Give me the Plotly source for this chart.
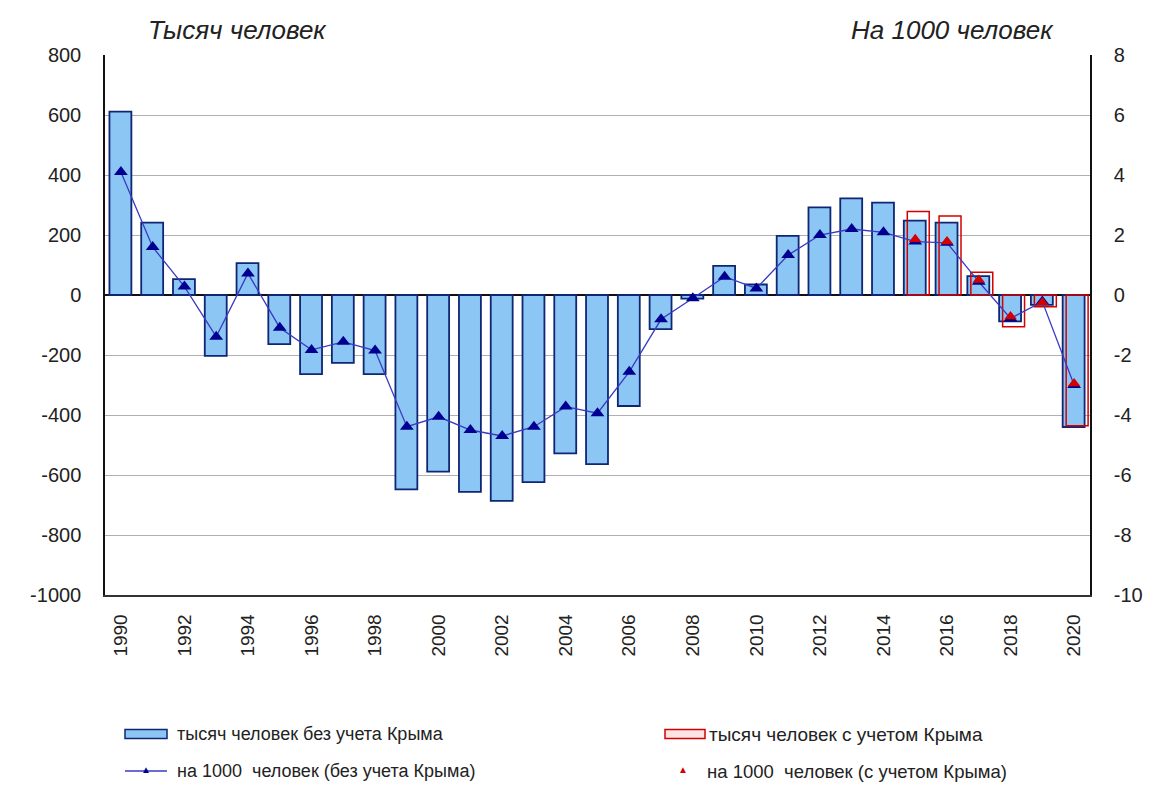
import plotly.graph_objects as go

# ---- data ----
years = list(range(1990, 2021))
thous_excl = [611, 241, 53, -203, 106, -164, -264, -226, -264, -648,
              -589, -656, -686, -624, -528, -564, -370, -114, -12, 97,
              35, 197, 292, 322, 308, 248, 241, 63, -88, -33, -440]
per1000_excl = [4.1, 1.6, 0.28, -1.39, 0.72, -1.09, -1.83, -1.56, -1.85, -4.39,
                -4.06, -4.5, -4.7, -4.39, -3.72, -3.94, -2.56, -0.81, -0.11, 0.61,
                0.22, 1.33, 2.0, 2.2, 2.09, 1.78, 1.74, 0.44, -0.78, -0.22, -3.0]
years_crimea = [2015, 2016, 2017, 2018, 2019, 2020]
thous_incl = [278, 263, 76, -106, -39, -436]
per1000_incl = [1.86, 1.78, 0.5, -0.72, -0.25, -2.95]
xtick_years = list(range(1990, 2021, 2))
left_ticks = list(range(-1000, 801, 200))
right_ticks = list(range(-10, 9, 2))
left_labels = [str(v) for v in left_ticks]
right_labels = [str(v) for v in right_ticks]

names = ["тысяч человек без учета Крыма", "тысяч человек с учетом Крыма",
         "на 1000  человек (без учета Крыма)", "на 1000  человек (с учетом Крыма)"]

FONT = "Liberation Sans, Arial, sans-serif"
BAR_FILL = "#8cc6f4"
BAR_LINE = "#0e2674"
LINE_COL = "#3a3ac4"
MARK_COL = "#000090"
RED = "#d40000"

# page has an 8px body margin: figure is drawn from (8, 8)
W, H = 1148, 779
L, T, R, B = 97, 47, 66, 192
PW, PH = W - L - R, H - T - B

fig = go.Figure()
fig.add_trace(go.Bar(x=years, y=thous_excl, name=names[0], width=0.69, offset=-0.36,
                     marker=dict(color=BAR_FILL, line=dict(color=BAR_LINE, width=1.8)),
                     showlegend=False))
fig.add_trace(go.Bar(x=years_crimea, y=thous_incl, name=names[1], width=0.69, offset=-0.25,
                     marker=dict(color="rgba(0,0,0,0)", line=dict(color=RED, width=1.5)),
                     showlegend=False))
fig.add_trace(go.Scatter(x=years, y=per1000_excl, name=names[2], yaxis="y2", mode="lines+markers",
                         line=dict(color=LINE_COL, width=1.3),
                         marker=dict(symbol="triangle-up", size=12, color=MARK_COL),
                         showlegend=False))
fig.add_trace(go.Scatter(x=years_crimea, y=per1000_incl, name=names[3], yaxis="y2", mode="markers",
                         marker=dict(symbol="triangle-up", size=11, color=RED),
                         showlegend=False))

fig.update_layout(
    width=W, height=H,
    margin=dict(l=L, r=R, t=T, b=B),
    paper_bgcolor="white", plot_bgcolor="white",
    barmode="overlay",
    font=dict(family=FONT, size=19, color="#222222"),
    xaxis=dict(range=[1989.5, 2020.5], tickvals=xtick_years, tickangle=-90,
               showgrid=False, showline=True, linecolor="#333333", linewidth=1.5,
               ticks="", ticklabelstandoff=10, zeroline=False,
               tickfont=dict(size=19)),
    yaxis=dict(range=[-1000, 800], tickvals=left_ticks, ticktext=left_labels, showgrid=True,
               gridcolor="#b0b0b0", gridwidth=1, zeroline=True, zerolinecolor="#111111",
               zerolinewidth=1.5, showline=True, linecolor="#111111", linewidth=1.5,
               ticks="", ticklabelstandoff=18, tickfont=dict(size=20)),
    yaxis2=dict(range=[-10, 8], tickvals=right_ticks, ticktext=right_labels,
                overlaying="y", side="right",
                showgrid=False, zeroline=False, showline=True, linecolor="#111111",
                linewidth=1.5, ticks="", ticklabelstandoff=18, tickfont=dict(size=20)),
)

# helpers: page pixel -> paper coordinate
def px_x(p):
    return (p - 8 - L) / PW

def px_y(p):
    return (H - B - (p - 8)) / PH

# axis titles
fig.add_annotation(text="<i>Тысяч человек</i>", xref="paper", yref="paper",
                   x=px_x(146), y=px_y(30), xanchor="left", yanchor="middle", showarrow=False,
                   font=dict(size=26, family=FONT, color="#222222"))
fig.add_annotation(text="<i>На 1000 человек</i>", xref="paper", yref="paper",
                   x=px_x(1056), y=px_y(30), xanchor="right", yanchor="middle", showarrow=False,
                   font=dict(size=26, family=FONT, color="#222222"))

# manual legend
r1, r2 = 734, 771
fig.add_shape(type="rect", xref="paper", yref="paper", x0=px_x(125), x1=px_x(167),
              y0=px_y(r1 + 4.5), y1=px_y(r1 - 4.5),
              fillcolor=BAR_FILL, line=dict(color=BAR_LINE, width=1.5))
fig.add_shape(type="rect", xref="paper", yref="paper", x0=px_x(665), x1=px_x(705),
              y0=px_y(r1 + 4.5), y1=px_y(r1 - 4.5),
              fillcolor="#fde4e4", line=dict(color=RED, width=1.5))
fig.add_shape(type="line", xref="paper", yref="paper", x0=px_x(125), x1=px_x(167),
              y0=px_y(r2), y1=px_y(r2), line=dict(color=LINE_COL, width=1.5))
fig.add_annotation(text="▲", xref="paper", yref="paper", x=px_x(146), y=px_y(r2 - 1),
                   showarrow=False, font=dict(size=10, color=MARK_COL),
                   xanchor="center", yanchor="middle")
fig.add_annotation(text="▲", xref="paper", yref="paper", x=px_x(683), y=px_y(r2 - 1),
                   showarrow=False, font=dict(size=10, color=RED),
                   xanchor="center", yanchor="middle")
for txt, xp, yp, fs in [(names[0], 175, r1, 18), (names[1], 707, r1, 19),
                        (names[2], 175, r2, 18), (names[3], 705, r2, 18.5)]:
    fig.add_annotation(text=txt, xref="paper", yref="paper", x=px_x(xp), y=px_y(yp),
                       xanchor="left", yanchor="middle", showarrow=False,
                       font=dict(size=fs, family=FONT, color="#222222"))

fig.write_html("out.html")
